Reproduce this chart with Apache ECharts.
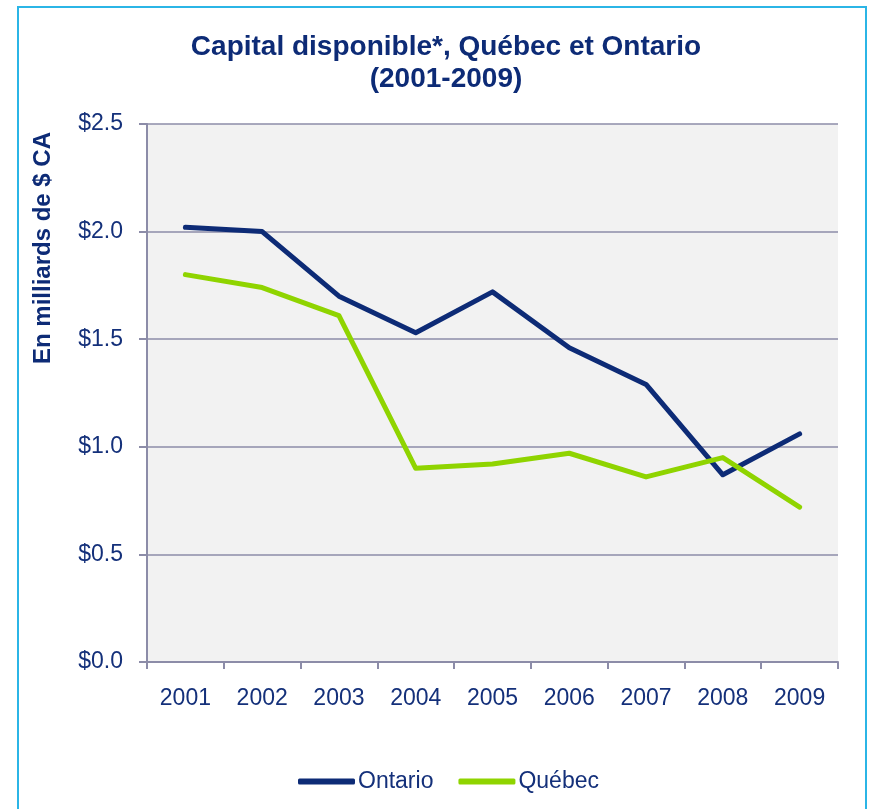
<!DOCTYPE html>
<html>
<head>
<meta charset="utf-8">
<script src="https://cdn.jsdelivr.net/npm/echarts@6/dist/echarts.min.js"></script>
<style>
  html, body { margin: 0; padding: 0; background: #fff; }
  #chart { width: 873px; height: 809px; }
</style>
</head>
<body>
<div id="chart"></div>
<script>
const years = ["2001", "2002", "2003", "2004", "2005", "2006", "2007", "2008", "2009"];
const ontario = [2.02, 2.0, 1.7, 1.53, 1.72, 1.46, 1.29, 0.87, 1.06];
const quebec = [1.8, 1.74, 1.61, 0.9, 0.92, 0.97, 0.86, 0.95, 0.72];
const yTicks = [0, 0.5, 1.0, 1.5, 2.0, 2.5];

const navy = "#0d2b76";
const lime = "#8fd400";
const axisGray = "#8c8ca8";
const textNavy = "#14307a";
const font = "Liberation Sans, Arial, sans-serif";

const myChart = echarts.init(document.getElementById("chart"));
myChart.setOption({
  animation: false,
  backgroundColor: "#fff",
  title: {
    text: "Capital disponible*, Québec et Ontario\n(2001-2009)",
    left: 441,
    textAlign: "center",
    top: 26,
    textStyle: {
      color: navy,
      fontFamily: font,
      fontSize: 28,
      fontWeight: "bold",
      lineHeight: 32,
    },
  },
  graphic: [
    {
      type: "rect",
      shape: { x: 18, y: 7, width: 848, height: 820 },
      style: { fill: "none", stroke: "#2bb5e6", lineWidth: 2 },
      silent: true,
    },
    {
      type: "text",
      x: 43,
      y: 248,
      rotation: Math.PI / 2,
      style: {
        text: "En milliards de $ CA",
        fill: navy,
        font: "bold 24px " + font,
        textAlign: "center",
        textVerticalAlign: "middle",
      },
    },
  ],
  grid: { left: 147, right: 35, top: 124, bottom: 147, show: true, backgroundColor: "#f2f2f2", borderWidth: 0 },
  legend: {
    top: 765,
    left: 293,
    icon: "roundRect",
    itemWidth: 57,
    itemHeight: 6,
    itemGap: 25,
    textStyle: { color: textNavy, fontFamily: font, fontSize: 23, padding: [0, 0, 0, -2] },
    data: ["Ontario", "Québec"],
  },
  xAxis: {
    type: "category",
    data: years,
    boundaryGap: true,
    axisLine: { lineStyle: { color: axisGray, width: 2 } },
    axisTick: { show: true, length: 7, lineStyle: { color: axisGray, width: 2 } },
    axisLabel: { color: textNavy, fontFamily: font, fontSize: 23, margin: 25 },
  },
  yAxis: {
    type: "value",
    min: 0,
    max: 2.5,
    interval: 0.5,
    axisLine: { show: true, lineStyle: { color: axisGray, width: 2 } },
    axisTick: { show: true, length: 8, lineStyle: { color: axisGray, width: 2 } },
    splitLine: { lineStyle: { color: axisGray, width: 1.5 } },
    axisLabel: {
      color: textNavy,
      fontFamily: font,
      fontSize: 23,
      margin: 24,
      formatter: (v) => "$" + yTicks.find((t) => Math.abs(t - v) < 1e-9).toFixed(1),
    },
  },
  series: [
    {
      name: "Ontario",
      type: "line",
      data: ontario,
      symbol: "none",
      color: navy,
      lineStyle: { width: 5, cap: "round", join: "round" },
    },
    {
      name: "Québec",
      type: "line",
      data: quebec,
      symbol: "none",
      color: lime,
      lineStyle: { width: 5, cap: "round", join: "round" },
    },
  ],
});
</script>
</body>
</html>
